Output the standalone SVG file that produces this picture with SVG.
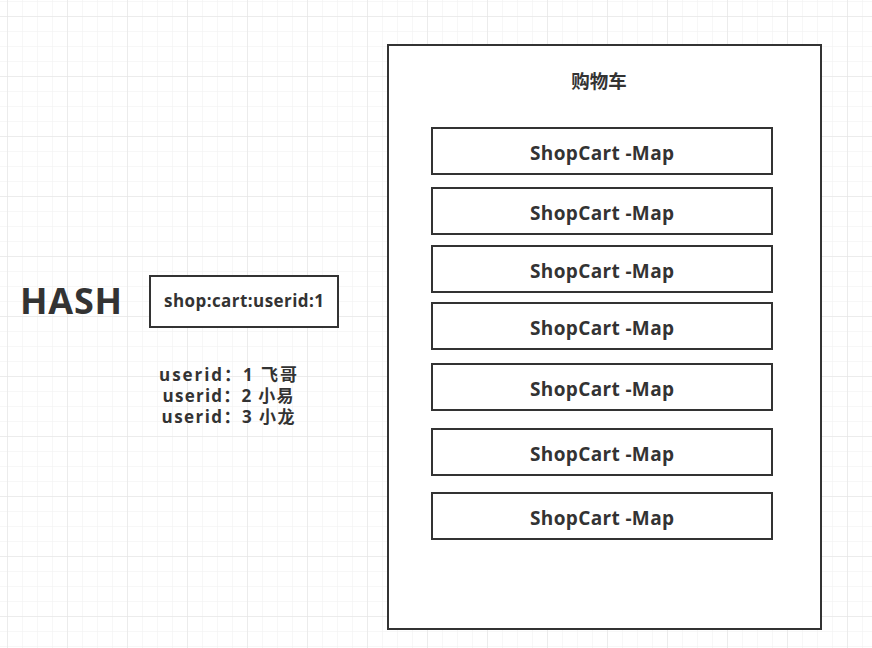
<svg xmlns="http://www.w3.org/2000/svg" width="872" height="648" viewBox="0 0 872 648">
<defs>
<pattern id="minor" x="7" y="1" width="15" height="15" patternUnits="userSpaceOnUse">
<path d="M0 0H15M0 0V15" fill="none" stroke="#efefef" stroke-width="1"/>
</pattern>
<pattern id="major" x="7" y="16" width="60" height="60" patternUnits="userSpaceOnUse">
<path d="M0 0H60M0 0V60" fill="none" stroke="#e2e2e2" stroke-width="1"/>
</pattern>
</defs>
<style>
.box{fill:#fff;stroke:#333;stroke-width:2}
.t{font-family:"Open Sans","Noto Sans CJK SC",sans-serif;font-weight:bold;fill:#333;text-anchor:middle}
.m{font-size:19px}
.u{font-size:17px}
</style>
<rect width="872" height="648" fill="#fff"/>
<rect width="872" height="648" fill="url(#minor)"/>
<rect width="872" height="648" fill="url(#major)"/>
<g id="hash-label"><text class="t" x="71" y="314" font-size="36" textLength="102">HASH</text></g>
<g id="key"><rect class="box" x="150" y="276" width="188" height="51"/><text class="t" x="244" y="307" font-size="17" textLength="160">shop:cart:userid:1</text></g>
<g id="users">
<text class="t u" x="228" y="381" textLength="138">userid：1  飞哥</text>
<text class="t u" x="228" y="402" textLength="131">userid：2 小易</text>
<text class="t u" x="228" y="423" textLength="133">userid：3 小龙</text>
</g>
<g id="cart"><rect class="box" x="388" y="45" width="433" height="584"/><text class="t" x="599" y="88" font-size="18.5">购物车</text></g>
<g id="map1"><rect class="box" x="432" y="128" width="340" height="46"/><text class="t m" x="602" y="160" textLength="144">ShopCart -Map</text></g>
<g id="map2"><rect class="box" x="432" y="188" width="340" height="46"/><text class="t m" x="602" y="220" textLength="144">ShopCart -Map</text></g>
<g id="map3"><rect class="box" x="432" y="246" width="340" height="46"/><text class="t m" x="602" y="278" textLength="144">ShopCart -Map</text></g>
<g id="map4"><rect class="box" x="432" y="303" width="340" height="46"/><text class="t m" x="602" y="335" textLength="144">ShopCart -Map</text></g>
<g id="map5"><rect class="box" x="432" y="364" width="340" height="46"/><text class="t m" x="602" y="396" textLength="144">ShopCart -Map</text></g>
<g id="map6"><rect class="box" x="432" y="429" width="340" height="46"/><text class="t m" x="602" y="461" textLength="144">ShopCart -Map</text></g>
<g id="map7"><rect class="box" x="432" y="493" width="340" height="46"/><text class="t m" x="602" y="525" textLength="144">ShopCart -Map</text></g>
<g id="connectors"></g>
</svg>
